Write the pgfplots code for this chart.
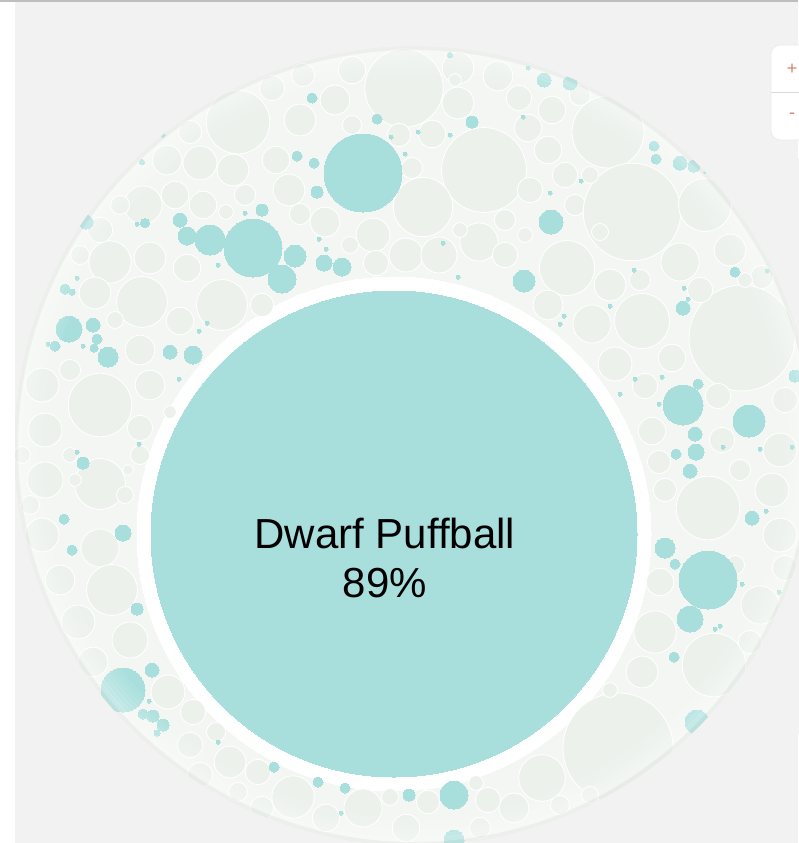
\documentclass[border=0pt]{standalone}
\usepackage{pgfplots}
\pgfplotsset{compat=1.18}
\usepackage{pgfplotstable}
\usepackage{fontspec}
\setmainfont{Liberation Sans}
\definecolor{bgc}{HTML}{F2F2F2}
\definecolor{basec}{HTML}{F3F6F3}
\definecolor{lightc}{HTML}{ECF1EC}
\definecolor{tealc}{HTML}{A8DFDC}
\definecolor{rimc}{HTML}{E0E3E0}
\definecolor{zoomred}{HTML}{D9806F}

\pgfplotstableread{
x y r
238 122 30
404 88 37
498 76 14
458 103 15
519 98 12
335 100 14
300 120 15
352 125 9
432 134 13
399 135 11
484 170 40
423 207 28
276 160 13
289 190 15
325 222 14
300 214 10
373 235 16
406 255 16
439 255 17
479 242 18
505 220 10
376 263 12
505 255 12
528 128 13
552 110 13
548 150 13
565 175 12
530 190 12
575 205 10
608 132 34
632 212 46
705 205 25
680 262 18
567 268 26
610 285 15
730 250 15
580 95 10
143 205 18
175 195 13
203 205 13
200 163 16
233 170 15
167 160 14
190 132 11
245 195 10
110 262 20
150 258 15
187 268 13
100 230 12
120 205 9
222 305 24
142 302 24
180 321 13
80 255 9
100 405 30
42 385 16
45 430 16
140 428 12
140 455 9
100 484 24
45 480 17
42 535 16
100 548 18
112 590 24
78 622 16
60 580 14
93 662 14
130 640 17
168 692 16
193 712 12
190 745 12
216 732 9
230 762 15
258 772 12
200 775 12
140 350 14
150 385 14
170 412 6
95 293 15
115 320 8
70 370 10
742 338 50
642 321 26
592 324 18
615 364 16
548 305 14
672 358 13
645 386 12
718 396 12
722 440 12
780 450 16
785 400 12
652 431 13
659 462 11
665 490 11
708 508 30
772 490 16
780 535 16
740 470 10
660 582 13
655 632 20
642 672 15
714 665 30
760 605 18
750 642 11
618 748 52
542 778 22
514 808 14
488 800 12
476 783 7
428 802 11
390 797 8
363 808 18
293 797 20
326 818 13
406 828 13
262 808 11
480 828 10
412 168 10
350 245 8
272 88 12
303 75 11
352 70 13
458 68 15
640 280 10
700 290 12
762 277 11
590 175 8
785 568 12
238 792 9
262 305 11
226 212 7
22 455 8
30 505 9
30 600 8
70 455 7
75 480 6
125 495 8
128 470 5
560 805 9
590 795 8
745 280 7
735 565 9
610 690 7
600 232 8
525 235 7
460 230 7
455 80 6
}\lightdata

\pgfplotstableread{
x y r
363 173 39
312 98 5
377 119 5
472 122 6
450 55 2.5
297 156 5
314 163 5
317 192 6
391 137 2
405 154 2
418 132 2
450 135 2
523 117 2
528 68 2
253 248 29
295 256 11
324 263 8
342 267 9
282 279 14
319 239 2
326 249 2
443 243 2
458 277 2
524 281 11
544 80 7
570 83 7
654 146 5
656 159 5
680 163 7
694 166 6
581 181 2
550 193 2
551 222 12
634 270 2
735 272 5
767 271 2
210 240 15
187 236 9
180 220 7
145 223 4.5
137 224 2
262 210 6
245 213 2
142 162 2.5
163 135 2
86 222 7
218 265 2
77 278 2
65 289 5
72 292 3
69 329 13
93 325 7
97 339 5
94 348 4
108 357 10
55 346 5
48 344 2
83 346 2
170 352 7
193 355 9
207 323 2
199 331 2
179 379 2
139 444 2
77 452 2
83 463 6
64 519 5
123 533 8
72 550 5
137 609 6
152 670 7
123 690 22
149 701 2
143 714 5
153 716 6
163 725 6
157 733 3
218 742 2
274 767 5
318 782 5
345 788 5
341 813 2
409 795 6
454 795 14
454 840 10
683 308 7
684 288 2
688 299 2
610 306 2
564 316 2
560 324 2
795 376 6
698 384 5
683 405 20
749 421 16
635 379 2
662 377 2
659 404 2
620 394 2
695 434 7
696 452 8
676 454 5
690 471 7
723 447 2
760 449 2
792 447 2
752 518 7
766 511 2
665 548 10
708 580 29
675 564 5
690 619 13
742 584 2
715 629 2
720 626 2
674 657 5
779 592 2
697 722 12
705 172 1.5
}\tealdata

\pgfplotstableread{
r op
370 0.06
374 0.10
378 0.14
382 0.19
386 0.24
390 0.29
394 0.34
}\rimdata

\begin{document}
\begin{tikzpicture}
\begin{axis}[x=1pt, y=1pt, y dir=reverse,
  xmin=0, xmax=798, ymin=0, ymax=843,
  hide axis, clip=false, clip marker paths=true]
\coordinate (BL) at (axis cs:0,843);
\coordinate (TR) at (axis cs:798,0);
% background
\addplot[fill=bgc, draw=none] coordinates {(0,0) (798,0) (798,843) (0,843)} -- cycle;
% outer circle
\addplot[only marks, mark=*, mark size=400,
  mark options={fill=basec, draw=basec, line width=0pt}] coordinates {(414,446)};
% white gap around the main bubble
\addplot[only marks, mark=*, mark size=257,
  mark options={fill=white, draw=white, line width=0pt}] coordinates {(394,534)};
% light bubbles
\addplot[only marks, mark=*, scatter,
  visualization depends on={\thisrow{r} \as \rr},
  scatter/use mapped color={draw=white, fill=lightc, line width=0.9pt, mark size=1.06*\rr}]
  table[x=x, y=y] {\lightdata};
% teal bubbles
\addplot[only marks, mark=*, scatter,
  visualization depends on={\thisrow{r} \as \rr},
  scatter/use mapped color={draw=tealc, fill=tealc, line width=0pt, mark size=\rr}]
  table[x=x, y=y] {\tealdata};
% rim shading (soft translucent band, concentric rings)
\addplot[only marks, mark=o, scatter,
  visualization depends on={\thisrow{r} \as \rimr},
  visualization depends on={\thisrow{op} \as \rimop},
  scatter/use mapped color={draw=white, line width=4.3pt, draw opacity=\rimop, mark size=\rimr}]
  table[x expr=414, y expr=446] {\rimdata};
\addplot[only marks, mark=o, mark size=398,
  mark options={draw=rimc, line width=4pt, draw opacity=0.35}] coordinates {(414,446)};
% mask outside the outer circle
\addplot[only marks, mark=o, mark size=440,
  mark options={draw=bgc, line width=80pt}] coordinates {(414,446)};
% main bubble
\addplot[only marks, mark=*, mark size=243,
  mark options={fill=tealc, draw=tealc, line width=0pt}] coordinates {(394,534)};
% left white strip and top line
\addplot[fill=white, draw=none] coordinates {(0,0) (15,0) (15,843) (0,843)} -- cycle;
\addplot[draw=black!25, line width=1.5pt] coordinates {(0,1) (798,1)};
% labels
\node[anchor=base, font=\fontsize{42}{50}\selectfont] at (axis cs:385,548) {Dwarf Puffball};
\node[anchor=base, font=\fontsize{42}{50}\selectfont] at (axis cs:385,597) {89\%};
% zoom control
\draw[fill=white, draw=black!8, rounded corners=9pt, line width=0.8pt]
  (axis cs:771,45) rectangle (axis cs:830,140);
\draw[black!15, line width=0.8pt] (axis cs:771,92) -- (axis cs:800,92);
\node[text=zoomred, font=\fontsize{18}{18}\selectfont] at (axis cs:792,69) {+};
\node[text=zoomred, font=\fontsize{18}{18}\selectfont] at (axis cs:792,116) {-};
\end{axis}
\pgfresetboundingbox
\path[use as bounding box] (BL) rectangle (TR);
\end{tikzpicture}
\end{document}
